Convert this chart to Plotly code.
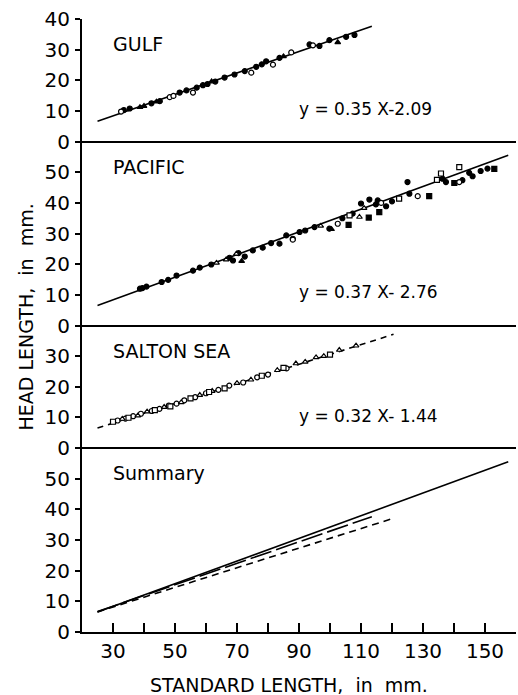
import plotly.graph_objects as go

FONT = "DejaVu Sans"

# ---------------- data ----------------
# Gulf
gulf_fc_x = [33.5, 35.4, 42.4, 45.1, 51.5, 53.7, 57.0, 59.0, 60.5, 63.0, 66.0, 69.2, 72.5, 76.2, 78.0, 79.4, 83.7, 93.4, 96.6, 99.8, 105.2, 107.9]
gulf_fc_y = [10.3, 10.8, 12.5, 13.2, 16.0, 16.7, 17.6, 18.4, 18.8, 19.6, 20.9, 21.9, 23.0, 24.4, 25.2, 26.2, 27.3, 31.7, 31.2, 33.1, 34.2, 34.8]
gulf_oc_x = [32.6, 48.3, 49.5, 55.8, 74.6, 81.6, 87.5, 94.5]
gulf_oc_y = [9.8, 14.5, 14.9, 16.0, 22.5, 25.1, 29.1, 31.4]
gulf_ft_x = [38.7, 40.0, 44.0, 61.8, 85.0, 102.5]
gulf_ft_y = [11.2, 11.6, 13.0, 19.6, 27.8, 32.4]

# Pacific
pac_fc_x = [38.7, 39.5, 40.8, 45.7, 47.8, 50.5, 55.8, 58.0, 61.7, 67.6, 68.7, 70.5, 72.5, 75.1, 78.3, 81.0, 83.7, 85.9, 88.0, 90.2, 92.0, 95.0, 99.8, 104.0, 107.3, 110.0, 112.7, 114.8, 115.4, 118.1, 120.0, 125.0, 125.6, 136.3, 137.4, 142.7, 144.9, 146.0, 148.6, 150.8]
pac_fc_y = [12.0, 12.2, 12.7, 14.2, 14.9, 16.3, 17.9, 18.9, 19.9, 22.1, 21.2, 23.6, 22.5, 24.5, 25.4, 26.9, 26.7, 29.4, 28.3, 30.5, 31.0, 32.1, 31.6, 35.0, 36.5, 39.8, 41.1, 39.5, 40.8, 38.9, 40.5, 46.8, 43.0, 47.9, 46.8, 47.4, 49.8, 48.7, 50.4, 51.2]
pac_fs_x = [106.0, 112.5, 115.9, 132.0, 140.1, 153.0]
pac_fs_y = [32.8, 35.2, 37.0, 42.2, 46.5, 51.1]
pac_os_x = [106.3, 122.3, 134.5, 135.8, 141.7]
pac_os_y = [35.9, 41.4, 47.5, 49.6, 51.7]
pac_oc_x = [88.0, 102.5, 116.5, 128.3, 141.7]
pac_oc_y = [28.0, 33.2, 40.0, 42.2, 46.8]
pac_ot_x = [63.4, 66.5, 69.8, 97.0, 109.5, 111.0]
pac_ot_y = [20.4, 21.5, 23.4, 32.5, 35.4, 38.3]
pac_ft_x = [71.5, 100.5]
pac_ft_y = [21.0, 31.4]

# Salton Sea
sal_oc_x = [31.5, 34.0, 36.5, 39.0, 42.5, 45.0, 48.0, 50.5, 53.0, 56.5, 60.0, 64.0, 67.5, 72.0, 76.5, 80.0, 86.0]
sal_oc_y = [9.0, 9.6, 10.4, 11.2, 12.1, 12.8, 13.9, 14.5, 15.6, 16.6, 17.9, 19.0, 20.4, 21.4, 23.1, 24.0, 26.0]
sal_ot_x = [33.0, 38.0, 41.0, 46.5, 52.0, 58.0, 62.0, 70.0, 74.5, 83.0, 89.0, 92.0, 95.5, 98.0, 103.0, 108.4]
sal_ot_y = [9.5, 10.6, 11.9, 13.4, 14.9, 17.3, 18.6, 21.2, 22.3, 25.4, 27.6, 28.1, 29.6, 30.0, 32.0, 33.4]
sal_os_x = [30.0, 35.0, 43.5, 48.5, 55.0, 61.0, 66.0, 78.0, 85.0, 100.0]
sal_os_y = [8.6, 9.9, 12.4, 13.6, 16.2, 18.3, 19.5, 23.6, 26.2, 30.5]

# regression lines: slope, intercept, x-extent
reg_names = ["Gulf", "Pacific", "Salton Sea"]
reg_slope = [0.35, 0.37, 0.32]
reg_icept = [-2.09, -2.76, -1.44]
reg_xmin = [25.0, 25.0, 25.0]
reg_xmax = [113.5, 157.5, 120.5]
reg_label = ["y = 0.35 X-2.09", "y = 0.37 X- 2.76", "y = 0.32 X- 1.44"]

panel_titles = ["GULF", "PACIFIC", "SALTON SEA", "Summary"]

x_ticks = [30, 50, 70, 90, 110, 130, 150]

# ---------------- figure ----------------
fig = go.Figure()

def pts(xs, ys, yax, symbol, filled):
    fig.add_trace(go.Scatter(
        x=xs, y=ys, xaxis="x", yaxis=yax, mode="markers",
        marker=dict(symbol=symbol, size=5,
                    color="black" if filled else "white",
                    line=dict(color="black", width=1.2)),
        showlegend=False, hoverinfo="skip"))

def reg(i, yax, dash):
    xs = [reg_xmin[i], reg_xmax[i]]
    ys = [reg_slope[i] * v + reg_icept[i] for v in xs]
    fig.add_trace(go.Scatter(x=xs, y=ys, xaxis="x", yaxis=yax, mode="lines",
                             line=dict(color="black", width=1.6, dash=dash),
                             showlegend=False, hoverinfo="skip"))

# Gulf panel (y)
reg(0, "y", "solid")
pts(gulf_fc_x, gulf_fc_y, "y", "circle", True)
pts(gulf_oc_x, gulf_oc_y, "y", "circle", False)
pts(gulf_ft_x, gulf_ft_y, "y", "triangle-up", True)
# Pacific panel (y2)
reg(1, "y2", "solid")
pts(pac_fc_x, pac_fc_y, "y2", "circle", True)
pts(pac_fs_x, pac_fs_y, "y2", "square", True)
pts(pac_os_x, pac_os_y, "y2", "square", False)
pts(pac_oc_x, pac_oc_y, "y2", "circle", False)
pts(pac_ot_x, pac_ot_y, "y2", "triangle-up", False)
pts(pac_ft_x, pac_ft_y, "y2", "triangle-up", True)
# Salton panel (y3)
reg(2, "y3", "6px,5px")
pts(sal_oc_x, sal_oc_y, "y3", "circle", False)
pts(sal_ot_x, sal_ot_y, "y3", "triangle-up", False)
pts(sal_os_x, sal_os_y, "y3", "square", False)
# Summary (y4)
reg(1, "y4", "solid")
reg(0, "y4", "22px,5px")
reg(2, "y4", "7px,5px")

tickfont = dict(family=FONT, size=20, color="black")

# x axes
fig.update_layout(
    xaxis=dict(domain=[0, 1], range=[20, 160], anchor="y4", side="bottom",
               tickvals=x_ticks, ticks="inside", ticklen=9, tickwidth=1.5,
               tickcolor="black", showline=True, linecolor="black", linewidth=2,
               showgrid=False, zeroline=False, tickfont=tickfont,
               minor=dict(dtick=10, tick0=20, ticks="inside", ticklen=9,
                          tickwidth=1.5, tickcolor="black", showgrid=False)),
    xaxis2=dict(domain=[0, 1], range=[20, 160], anchor="y", side="top",
                overlaying="x", tickvals=x_ticks, ticks="inside", ticklen=9,
                tickwidth=1.5, tickcolor="black", showline=True, linecolor="black",
                linewidth=2, showgrid=False, zeroline=False, showticklabels=False,
                minor=dict(dtick=10, tick0=20, ticks="inside", ticklen=9,
                           tickwidth=1.5, tickcolor="black", showgrid=False)),
)

panels = [  # (axis name, domain, range, left tickvals, right tickvals)
    ("yaxis", [0.8, 1.0], [0, 40], [0, 10, 20, 30, 40], [10, 20, 30]),
    ("yaxis2", [0.5, 0.8], [0, 60], [0, 10, 20, 30, 40, 50], [10, 20, 30, 40, 50]),
    ("yaxis3", [0.3, 0.5], [0, 40], [0, 10, 20, 30], [10, 20, 30]),
    ("yaxis4", [0.0, 0.3], [0, 60], [0, 10, 20, 30, 40, 50], [10, 20, 30, 40, 50]),
]
lay = {}
for k, (name, dom, rng, lt, rt) in enumerate(panels):
    lay[name] = dict(domain=dom, range=rng, anchor="x", side="left",
                     tickvals=lt, ticks="outside", ticklen=5, tickwidth=1.5,
                     tickcolor="black", showline=True, linecolor="black",
                     linewidth=2, showgrid=False, zeroline=(k < 3),
                     zerolinecolor="black", zerolinewidth=2, tickfont=tickfont,
                     ticklabelstandoff=1)
    main = "y" if k == 0 else "y%d" % (k + 1)
    lay["yaxis%d" % (k + 5)] = dict(domain=dom, range=rng, anchor="x", side="right",
                                    overlaying=main, tickvals=rt, ticks="inside",
                                    ticklen=9, tickwidth=1.5, tickcolor="black",
                                    showline=True, linecolor="black", linewidth=2,
                                    showgrid=False, zeroline=False,
                                    showticklabels=False)
fig.update_layout(**lay)

# panel titles and equations
title_pos_y = [31.8, 51.6, 31.6, 51.9]
yrefs = ["y", "y2", "y3", "y4"]
for i, t in enumerate(panel_titles):
    fig.add_annotation(x=29.4, y=title_pos_y[i], xref="x", yref=yrefs[i], text=t,
                       showarrow=False, xanchor="left", yanchor="middle",
                       font=dict(family=FONT, size=19, color="black"))
eq_y = [10.5, 10.8, 10.4]
for i, t in enumerate(reg_label):
    fig.add_annotation(x=89.2, y=eq_y[i], xref="x", yref=yrefs[i], text=t,
                       showarrow=False, xanchor="left", yanchor="middle",
                       font=dict(family=FONT, size=17, color="black"))

# axis titles
fig.add_annotation(x=0.478, y=-0.086, xref="paper", yref="paper",
                   text="STANDARD LENGTH,  in  mm.", showarrow=False,
                   xanchor="center", yanchor="middle",
                   font=dict(family=FONT, size=19, color="black"))
fig.add_annotation(x=-0.13, y=0.514, xref="paper", yref="paper",
                   text="HEAD LENGTH,  in  mm.", showarrow=False, textangle=-90,
                   xanchor="center", yanchor="middle",
                   font=dict(family=FONT, size=19, color="black"))

fig.update_layout(width=518, height=695, margin=dict(l=82, r=2, t=19, b=63),
                  paper_bgcolor="white", plot_bgcolor="white", showlegend=False)

fig.write_html("out.html")
